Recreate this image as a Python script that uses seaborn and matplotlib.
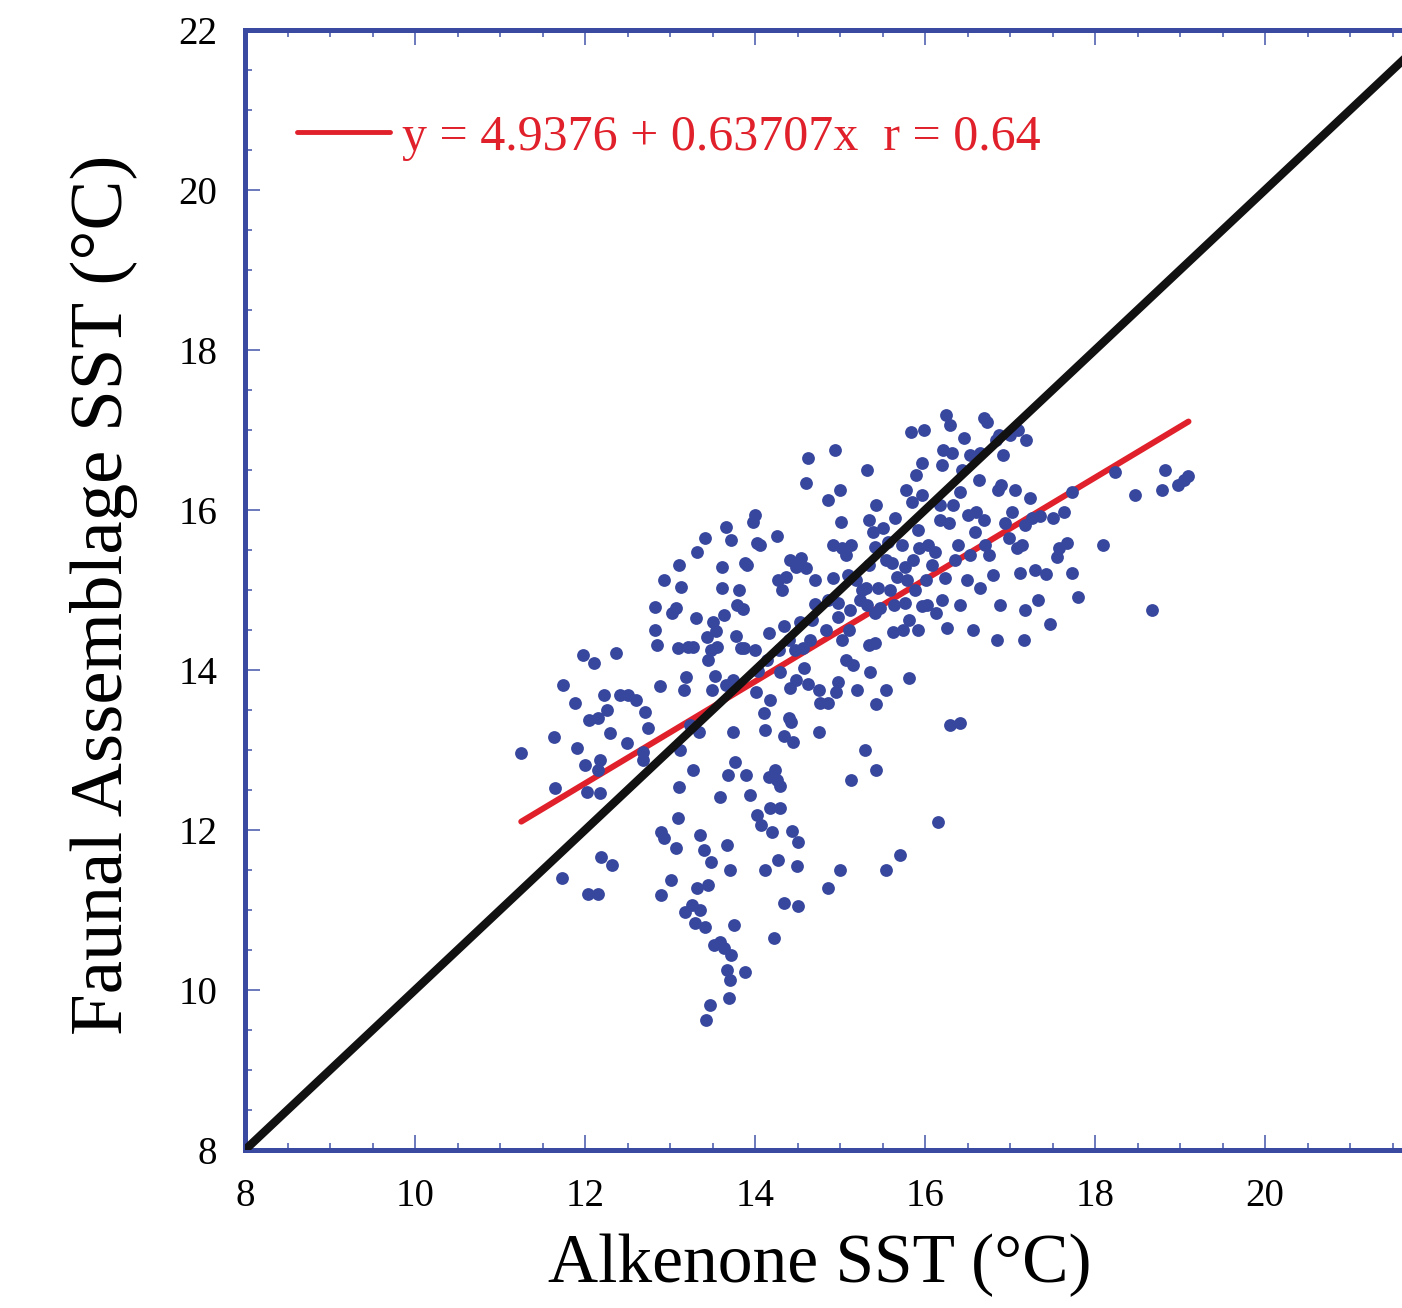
import numpy as np
import pandas as pd
import matplotlib
matplotlib.use('Agg')
import matplotlib.pyplot as plt
import seaborn as sns
from matplotlib.ticker import MultipleLocator
from matplotlib.lines import Line2D

sns.set_style('ticks')
plt.rcParams['font.family'] = ['Liberation Serif', 'DejaVu Serif']
plt.rcParams['text.color'] = 'black'
plt.rcParams['axes.labelcolor'] = 'black'
plt.rcParams['xtick.labelcolor'] = 'black'
plt.rcParams['ytick.labelcolor'] = 'black'

# Alkenone SST vs faunal assemblage SST
alk_sst = [
    11.25, 11.64, 11.74, 11.98, 12.11, 11.88, 12.05, 11.91, 11.65, 12.0, 12.02, 12.18, 12.18, 12.15,
    11.73, 12.04, 12.15, 12.19, 12.32, 12.22, 12.26, 12.15, 12.29, 12.36, 12.41, 12.51, 12.49, 12.6,
    12.71, 12.74, 12.68, 12.68, 12.82, 12.82, 12.85, 12.88, 12.93, 13.02, 13.07, 13.09, 13.11, 13.13,
    13.16, 13.19, 13.21, 13.27, 13.31, 13.32, 13.12, 12.89, 12.93, 13.07, 13.09, 12.89, 13.01, 13.11,
    13.27, 13.24, 13.34, 13.18, 13.26, 13.32, 13.35, 13.29, 13.45, 13.35, 13.4, 13.41, 13.52, 13.59,
    13.64, 13.67, 13.71, 13.72, 13.69, 13.47, 13.42, 13.88, 13.48, 13.67, 13.71, 13.75, 13.59, 13.68,
    13.76, 13.74,
    13.41, 13.51, 13.54, 13.44, 13.48, 13.45, 13.55, 13.61, 13.61, 13.64, 13.66, 13.72, 13.79, 13.81,
    13.86, 13.88, 13.91, 13.74, 13.66, 13.49, 13.53, 13.78, 13.84, 13.87, 14.0, 13.98, 14.02, 14.06,
    14.26, 14.0, 14.04, 14.01, 14.12, 14.18, 14.11, 14.16, 14.14, 13.89, 13.94, 14.02, 14.07, 14.12,
    14.16, 14.18, 14.2, 14.24, 14.26, 14.29, 14.29, 14.27, 14.22, 14.34, 14.34, 14.4, 14.45, 14.42,
    14.44, 14.49, 14.5, 14.5, 14.27, 14.32, 14.36, 14.34, 14.4, 14.29, 14.28, 14.41, 14.48, 14.54,
    14.6, 14.62, 14.6, 14.58, 14.53, 14.56, 14.47, 14.65, 14.67, 14.71, 14.71, 14.75, 14.76, 14.62,
    14.75, 14.41, 14.48,
    14.86, 14.94, 15.0, 15.01, 14.92, 14.92, 14.98, 14.86, 14.84, 14.86, 14.98, 14.95, 15.02, 15.07,
    15.09, 15.13, 15.1, 15.02, 15.07, 15.15, 15.12, 14.98, 15.2, 15.13, 15.0, 14.86, 15.29, 15.32,
    15.34, 15.19, 15.26, 15.24, 15.31, 15.34, 15.41, 15.39, 15.42, 15.32, 15.41, 15.47, 15.45, 15.34,
    15.41, 15.35, 15.42, 15.42, 15.54, 15.51, 15.56, 15.54, 15.61, 15.65, 15.67, 15.59, 15.64, 15.62,
    15.54, 15.71, 15.78, 15.73, 15.76, 15.79, 15.76, 15.81, 15.74, 15.81, 15.84, 15.85, 15.86, 15.88,
    15.92, 15.93, 15.89, 15.96, 15.96, 15.92, 15.96,
    15.99, 16.04, 16.01, 16.02, 16.08, 16.12, 16.13, 16.15, 16.18, 16.18, 16.2, 16.21, 16.25, 16.29,
    16.32, 16.33, 16.28, 16.24, 16.2, 16.26, 16.29, 16.41, 16.35, 16.39, 16.41, 16.44, 16.46, 16.41,
    16.49, 16.51, 16.53, 16.56, 16.53, 16.59, 16.6, 16.64, 16.65, 16.69, 16.73, 16.71, 16.75, 16.69,
    16.65, 16.8, 16.86, 16.89, 16.84, 16.87, 16.85, 16.88, 16.92, 16.94, 16.99, 17.02, 17.06, 17.0,
    17.09, 17.08, 17.14, 17.12, 17.18, 17.18, 17.16, 17.19, 17.24, 17.26, 17.29, 17.33, 17.35, 17.42,
    17.47, 17.51, 17.55, 17.58, 17.64, 17.67, 17.73, 17.73, 17.8, 18.09, 18.24, 18.47, 18.67, 18.79,
    18.82, 18.98, 19.05, 19.09,
]
faunal_sst = [
    12.96, 13.16, 13.81, 14.19, 14.09, 13.59, 13.38, 13.03, 12.53, 12.81, 12.48, 12.46, 12.88, 12.75,
    11.4, 11.2, 11.2, 11.66, 11.56, 13.69, 13.5, 13.4, 13.21, 14.21, 13.69, 13.69, 13.09, 13.63,
    13.48, 13.28, 12.98, 12.88, 14.79, 14.5, 14.31, 13.8, 15.13, 14.71, 14.78, 14.28, 15.31, 15.04,
    13.75, 13.91, 14.29, 14.29, 14.65, 15.48, 13.0, 11.98, 11.9, 11.78, 12.15, 11.19, 11.38, 12.54,
    12.75, 13.31, 13.23, 10.98, 11.06, 11.28, 11.0, 10.84, 11.31, 11.94, 11.75, 10.79, 10.56, 10.6,
    10.53, 10.25, 10.13, 10.44, 9.9, 9.81, 9.63, 10.22, 11.6, 11.81, 11.5, 10.81, 12.41, 12.69,
    12.85, 13.23,
    15.65, 14.6, 14.49, 14.41, 14.25, 14.13, 14.29, 15.03, 15.29, 14.69, 15.79, 15.63, 14.81, 15.0,
    14.76, 15.34, 15.31, 13.88, 13.81, 13.75, 13.93, 14.43, 14.28, 14.28, 15.94, 15.85, 15.59, 15.56,
    15.68, 14.25, 13.99, 13.73, 13.25, 13.63, 13.46, 14.46, 14.13, 12.69, 12.44, 12.19, 12.06, 11.5,
    12.66, 12.28, 11.98, 12.75, 12.63, 12.55, 12.28, 11.63, 10.65, 11.09, 13.18, 13.4, 13.1, 13.35,
    11.99, 11.55, 11.85, 11.05, 15.13, 15.0, 15.16, 14.55, 14.38, 13.98, 14.25, 15.38, 15.29, 15.4,
    15.28, 16.65, 16.34, 14.03, 14.6, 14.28, 14.25, 14.38, 14.63, 14.83, 15.13, 13.75, 13.59, 13.83,
    13.23, 13.78, 13.88,
    16.13, 16.75, 16.25, 15.85, 15.56, 15.15, 14.84, 14.88, 14.5, 13.59, 13.85, 13.73, 15.53, 15.44,
    15.19, 15.56, 14.5, 14.38, 14.13, 14.06, 14.75, 14.66, 13.75, 12.63, 11.5, 11.28, 13.0, 16.5,
    15.88, 15.13, 15.0, 14.88, 15.03, 15.31, 15.54, 15.73, 16.06, 14.81, 14.71, 14.78, 15.03, 14.31,
    14.34, 13.98, 13.58, 12.75, 13.75, 15.78, 15.6, 15.38, 15.34, 15.9, 15.16, 15.0, 14.81, 14.48,
    11.5, 11.69, 16.25, 15.56, 15.29, 15.13, 14.84, 14.63, 14.5, 13.9, 16.98, 16.1, 15.38, 15.0,
    15.75, 15.53, 16.44, 16.59, 16.19, 14.5, 14.8,
    17.0, 15.56, 15.13, 14.81, 15.31, 15.48, 14.71, 12.1, 16.06, 15.88, 16.56, 16.75, 17.19, 17.06,
    16.71, 16.06, 15.84, 15.15, 14.88, 14.53, 13.31, 13.34, 15.38, 15.56, 16.23, 16.5, 16.9, 14.81,
    15.13, 15.94, 16.69, 14.5, 15.44, 15.73, 15.98, 16.38, 16.71, 17.15, 17.1, 15.56, 15.44, 15.88,
    15.03, 15.19, 16.25, 16.31, 16.88, 16.94, 14.38, 14.81, 16.69, 15.84, 15.65, 15.98, 16.25, 16.94,
    17.0, 15.53, 15.56, 15.21, 15.81, 14.75, 14.38, 16.88, 16.15, 15.9, 15.25, 14.88, 15.93, 15.2,
    14.58, 15.9, 15.41, 15.53, 15.98, 15.59, 15.21, 16.23, 14.91, 15.56, 16.48, 16.19, 14.75, 16.25,
    16.5, 16.31, 16.38, 16.43,
]

# regression shown in the legend
fit_intercept = 4.9376
fit_slope = 0.63707
fit_r = 0.64
fit_x = [11.25, 19.1]
one_to_one = [8, 22]
x_ticks = [8, 10, 12, 14, 16, 18, 20]

df = pd.DataFrame({'alk': alk_sst, 'fa': faunal_sst})
fit_df = pd.DataFrame({'x': fit_x, 'y': [fit_intercept + fit_slope * v for v in fit_x]})
line_df = pd.DataFrame({'x': one_to_one, 'y': one_to_one})

spine_col = '#3a4aa0'
tick_col = '#6a78bb'
dot_col = '#37479e'
red = '#e0202a'

fig = plt.figure(figsize=(14.02, 13.08), dpi=100)
ax = fig.add_axes([245 / 1402, 158 / 1308, 1190 / 1402, 1120 / 1308])

sns.lineplot(data=fit_df, x='x', y='y', ax=ax, color=red, linewidth=4.3, zorder=2)
sns.scatterplot(data=df, x='alk', y='fa', ax=ax, color=dot_col, s=85, linewidth=0, zorder=3)
sns.lineplot(data=line_df, x='x', y='y', ax=ax, color='#111111', linewidth=6, zorder=4,
             solid_capstyle='projecting')

ax.set_xlim(8, 22)
ax.set_ylim(8, 22)
ax.set_xticks(x_ticks)
ax.xaxis.set_minor_locator(MultipleLocator(0.5))
ax.yaxis.set_major_locator(MultipleLocator(2))
ax.yaxis.set_minor_locator(MultipleLocator(0.5))
ax.tick_params(which='both', direction='in', top=True, right=True, color=tick_col, width=1.4)
ax.tick_params(which='major', length=11, labelsize=28, pad=20)
ax.tick_params(which='minor', length=5)
for s in ax.spines.values():
    s.set_color(spine_col)
    s.set_linewidth(3.6)
    s.set_visible(True)

ax.set_xlabel('Alkenone SST (°C)', fontsize=50)
ax.set_ylabel('Faunal Assemblage SST (°C)', fontsize=54)
ax.xaxis.set_label_coords(0.483, -0.075)
ax.yaxis.set_label_coords(-0.09, 0.496)

h = Line2D([], [], color=red, linewidth=3.5)
leg = ax.legend([h], [f'y = {fit_intercept} + {fit_slope}x  r = {fit_r}'],
                loc='center left', bbox_to_anchor=(0.044, 0.904), frameon=False,
                fontsize=36, labelcolor=red, handlelength=1.85, handletextpad=0.25,
                borderpad=0, borderaxespad=0)

fig.savefig('out.png', dpi=100)
